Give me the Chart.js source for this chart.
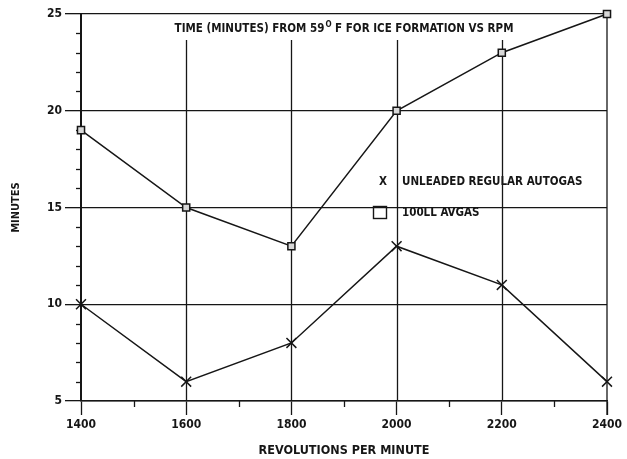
<!DOCTYPE html>
<html lang="en">

<head>
    <meta charset="UTF-8">
    <title>Ice Formation vs RPM</title>
    <style>
        html, body { margin: 0; padding: 0; background: #fff; }
        #graphic { display: block; }
    </style>
    <script src="https://cdn.jsdelivr.net/npm/chart.js"></script>
</head>

<body>
    <canvas id="graphic" width="627" height="459"></canvas>
    <script>
        // values
        const rpm = [1400, 1600, 1800, 2000, 2200, 2400];
        const autogasMinutes = [10, 6, 8, 13, 11, 6];
        const avgasMinutes = [19, 15, 13, 20, 23, 25];

        const chartTitle = ["TIME (MINUTES) FROM 59", "O", " F FOR ICE FORMATION VS RPM"];
        const legendLabels = ["UNLEADED REGULAR AUTOGAS", "100LL AVGAS"];

        const ink = "#161616";
        const fontFamily = "'Liberation Sans Narrow', 'DejaVu Sans Condensed', sans-serif";

        const ctx = document.getElementById("graphic").getContext("2d");

        function toPoints(values) {
            return rpm.map((r, i) => ({ x: r, y: values[i] }));
        }

        function line(c, x1, y1, x2, y2) {
            c.beginPath();
            c.moveTo(x1, y1);
            c.lineTo(x2, y2);
            c.stroke();
        }

        // partial vertical grid, minor ticks, title and legend
        const paperPlugin = {
            id: "paper",
            beforeDatasetsDraw(chart) {
                const c = chart.ctx;
                const a = chart.chartArea;
                const x = chart.scales.x;
                const y = chart.scales.y;

                c.save();
                c.strokeStyle = ink;
                c.lineWidth = 1.3;

                const gridTop = a.top + 26;
                [1600, 1800, 2000, 2200].forEach(v => {
                    const px = Math.round(x.getPixelForValue(v)) + 0.5;
                    line(c, px, gridTop, px, a.bottom);
                });
                line(c, a.right, a.top, a.right, a.bottom + 14);

                // minor ticks
                for (let m = 6; m < 25; m++) {
                    if (m % 5 === 0) continue;
                    const py = Math.round(y.getPixelForValue(m)) + 0.5;
                    line(c, a.left - 5, py, a.left, py);
                }
                for (let r = 1500; r < 2400; r += 200) {
                    const px = Math.round(x.getPixelForValue(r)) + 0.5;
                    line(c, px, a.bottom, px, a.bottom + 6);
                }

                // title with superscript degree
                c.fillStyle = ink;
                c.textBaseline = "alphabetic";
                const big = "bold 11.5px " + fontFamily;
                const small = "bold 8px " + fontFamily;
                c.font = big;
                const w0 = c.measureText(chartTitle[0]).width;
                const w2 = c.measureText(chartTitle[2]).width;
                c.font = small;
                const w1 = c.measureText(chartTitle[1]).width + 1;
                let tx = (a.left + a.right) / 2 - (w0 + w1 + w2) / 2;
                const ty = a.top + 18;
                c.font = big;
                c.fillText(chartTitle[0], tx, ty);
                c.font = small;
                c.fillText(chartTitle[1], tx + w0 + 1, ty - 5);
                c.font = big;
                c.fillText(chartTitle[2], tx + w0 + w1, ty);

                // legend
                c.font = "bold 11.5px " + fontFamily;
                c.textBaseline = "middle";
                c.fillText("X", 379, 182);
                c.fillText(legendLabels[0], 402, 182);
                c.lineWidth = 1.4;
                c.strokeRect(373.5, 206.5, 13, 12);
                c.fillText(legendLabels[1], 402, 213);

                c.restore();
            }
        };

        const tickFont = { family: fontFamily, size: 12, weight: "bold" };
        const plainLabel = v => String(v);

        new Chart(ctx, {
            type: "line",
            data: {
                datasets: [{
                    label: legendLabels[0],
                    data: toPoints(autogasMinutes),
                    borderColor: ink,
                    borderWidth: 1.5,
                    pointStyle: "crossRot",
                    pointRadius: 7,
                    pointBorderWidth: 1.5,
                    pointBorderColor: ink,
                    clip: false,
                    tension: 0
                }, {
                    label: legendLabels[1],
                    data: toPoints(avgasMinutes),
                    borderColor: ink,
                    borderWidth: 1.5,
                    pointStyle: "rect",
                    pointRadius: 5,
                    pointBorderWidth: 1.5,
                    pointBorderColor: ink,
                    pointBackgroundColor: "#d8d8d8",
                    clip: false,
                    tension: 0
                }]
            },
            options: {
                responsive: false,
                animation: false,
                layout: { padding: { top: 14, right: 20, left: 0, bottom: 0 } },
                plugins: {
                    legend: { display: false },
                    tooltip: { enabled: false }
                },
                scales: {
                    x: {
                        type: "linear",
                        min: 1400,
                        max: 2400,
                        afterFit(s) { s.height = 58; },
                        ticks: { stepSize: 200, color: ink, font: tickFont, padding: 3, callback: plainLabel },
                        grid: {
                            drawOnChartArea: false,
                            tickLength: 14,
                            tickColor: ink,
                            tickWidth: 1.3
                        },
                        border: { color: ink, width: 1.5 },
                        title: {
                            display: true,
                            text: "REVOLUTIONS PER MINUTE",
                            color: ink,
                            font: { family: fontFamily, size: 12.5, weight: "bold" },
                            padding: { top: 0, bottom: 1 }
                        }
                    },
                    y: {
                        min: 5,
                        max: 25,
                        afterFit(s) { s.width = 81; },
                        ticks: { stepSize: 5, color: ink, font: tickFont, padding: 3, callback: plainLabel },
                        grid: {
                            color: ink,
                            lineWidth: 1.3,
                            tickLength: 16,
                            tickColor: ink,
                            tickWidth: 1.3
                        },
                        border: { color: ink, width: 2 },
                        title: {
                            display: true,
                            text: "MINUTES",
                            color: ink,
                            font: { family: fontFamily, size: 11, weight: "bold" },
                            padding: { top: 10, bottom: 0 }
                        }
                    }
                }
            },
            plugins: [paperPlugin]
        });
    </script>
</body>

</html>
